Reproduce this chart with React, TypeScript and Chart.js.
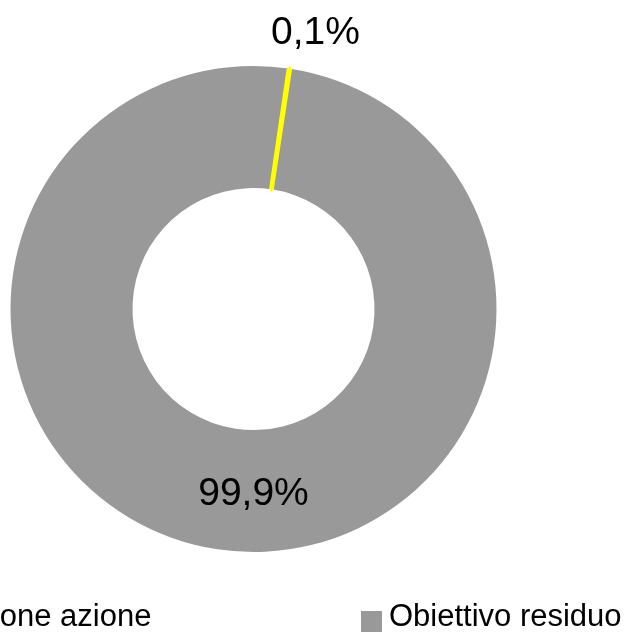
import React, { useEffect, useRef } from 'react';
import { Chart, registerables } from 'chart.js';

Chart.register(...registerables);

// ---- data ----
const categories = ['Obiettivo residuo', 'Realizzazione azione'];
const shares = [99.9, 0.1];

// ---- style ----
const GRAY = '#999999';
const YELLOW = '#ffff00';
const FONT = "'Liberation Sans', Arial, sans-serif";

function swatch(color: string) {
  const c = document.createElement('canvas');
  c.width = 21;
  c.height = 29;
  const g = c.getContext('2d')!;
  g.fillStyle = color;
  g.fillRect(0, 8, 21, 21);
  return c;
}

const labelPlugin = {
  id: 'sliceLabels',
  afterDatasetsDraw(chart: any) {
    const meta = chart.getDatasetMeta(0);
    const ctx = chart.ctx;
    ctx.save();
    ctx.font = `39px ${FONT}`;
    ctx.fillStyle = '#000000';
    ctx.textAlign = 'center';
    ctx.textBaseline = 'alphabetic';
    meta.data.forEach((arc: any, i: number) => {
      const { x, y, startAngle, endAngle, innerRadius, outerRadius } = arc.getProps(
        ['x', 'y', 'startAngle', 'endAngle', 'innerRadius', 'outerRadius'],
        true
      );
      const text = shares[i].toFixed(1).replace('.', ',') + '%';
      const span = endAngle - startAngle;
      let px: number;
      let py: number;
      if (span > Math.PI) {
        const r = (innerRadius + outerRadius) / 2;
        px = x;
        py = y + r;
      } else {
        const a = (startAngle + endAngle) / 2 + 0.07;
        const r = outerRadius + 43;
        px = x + r * Math.cos(a);
        py = y + r * Math.sin(a);
      }
      ctx.fillText(text, px, py + 14);
    });
    ctx.restore();
  },
};

export default function App() {
  const ref = useRef<HTMLCanvasElement>(null);

  useEffect(() => {
    if (!ref.current) return;
    const defaultGen = (Chart as any).overrides.doughnut.plugins.legend.labels.generateLabels;
    const chart = new Chart(ref.current, {
      type: 'doughnut',
      data: {
        labels: categories,
        datasets: [
          {
            data: shares,
            backgroundColor: [GRAY, YELLOW],
            borderColor: [GRAY, YELLOW],
            borderWidth: [0, 4],
            clip: false,
          } as any,
        ],
      },
      options: {
        responsive: false,
        animation: false,
        devicePixelRatio: 1,
        rotation: 8.68,
        radius: 243,
        cutout: '49.8%',
        layout: { padding: { top: 234, left: 0, right: 0, bottom: 0 } },
        plugins: {
          tooltip: { enabled: false },
          legend: {
            position: 'bottom',
            align: 'start',
            reverse: true,
            maxHeight: 1000,
            labels: {
              usePointStyle: true,
              pointStyleWidth: 4,
              boxHeight: 21,
              padding: 218,
              color: '#000000',
              font: { size: 31, family: FONT },
              generateLabels: (c: any) =>
                defaultGen(c).map((it: any) => ({
                  ...it,
                  pointStyle: swatch(it.fillStyle),
                  lineWidth: 0,
                })),
            },
          },
        },
      } as any,
      plugins: [labelPlugin],
    });
    return () => chart.destroy();
  }, []);

  return (
    <div
      style={{
        position: 'fixed',
        left: 0,
        top: 0,
        width: 626,
        height: 632,
        overflow: 'hidden',
        background: '#ffffff',
      }}
    >
      <canvas
        ref={ref}
        width={1265}
        height={643}
        style={{ position: 'absolute', left: -379, top: 0, width: 1265, height: 643 }}
      />
    </div>
  );
}
